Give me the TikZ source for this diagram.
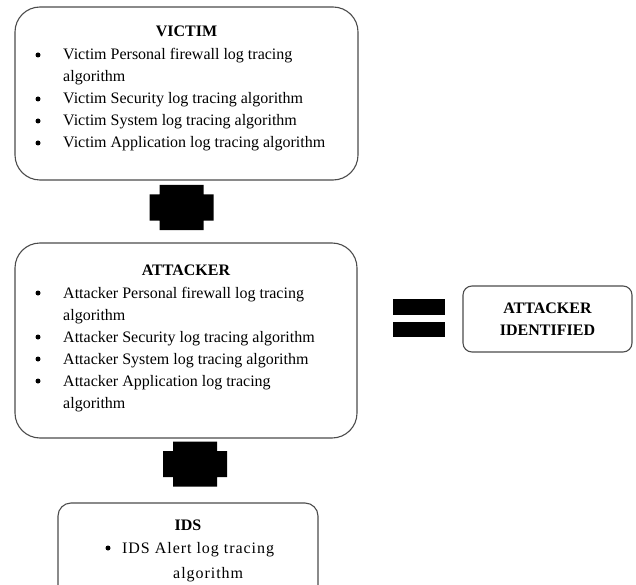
\documentclass[tikz,border=0pt]{standalone}
\usepackage{fontspec}
\setmainfont{Liberation Serif}
\begin{document}
\begin{tikzpicture}[x=1pt,y=-1pt,
  box/.style={draw=black!70, line width=1.1pt, rounded corners=#1, fill=white},
  txt/.style={anchor=base west, inner sep=0pt, font=\fontsize{16}{19}\selectfont},
  widetxt/.style={txt, font=\fontsize{16}{19}\selectfont\addfontfeature{LetterSpace=6}},
  ttl/.style={anchor=base, inner sep=0pt, font=\fontsize{16}{19}\selectfont\bfseries},
  dot/.style={circle, fill=black, inner sep=0pt, minimum size=5pt},
  plusmark/.pic={
    \fill[black] (-22,-22.5) -- (22,-22.5) -- (22,-13) -- (32,-13) -- (32,13)
      -- (22,13) -- (22,22.5) -- (-22,22.5) -- (-22,13) -- (-32,13)
      -- (-32,-13) -- (-22,-13) -- cycle;
  }]
\clip (0,0) rectangle (636,585);
\useasboundingbox (0,0) rectangle (636,585);

% main boxes
\node[box=25pt, minimum width=343pt, minimum height=173pt] (victim) at (186.5,93.5) {};
\node[box=25pt, minimum width=342pt, minimum height=195pt] (attacker) at (186,340.5) {};
\node[box=9pt, minimum width=169pt, minimum height=66pt] (found) at (547.5,319) {};
\node[box=13pt, minimum width=260pt, minimum height=100pt] (ids) at (188,553) {};

% victim contents
\node[ttl] (vt) at (victim.center |- 0,37) {VICTIM};
\node[dot] (vb1) at (38,55) {};
\node[txt] (v1) at (63,60) {Victim Personal firewall log tracing};
\node[txt] (v1b) at (63,82) {algorithm};
\node[dot] (vb2) at (38,99) {};
\node[txt] (v2) at (63,104) {Victim Security log tracing algorithm};
\node[dot] (vb3) at (38,121) {};
\node[txt] (v3) at (63,126) {Victim System log tracing algorithm};
\node[dot] (vb4) at (38,143) {};
\node[txt] (v4) at (63,148) {Victim Application log tracing algorithm};

% attacker contents
\node[ttl] (at) at (attacker.center |- 0,275) {ATTACKER};
\node[dot] (ab1) at (38,293) {};
\node[txt] (a1) at (63,298) {Attacker Personal firewall log tracing};
\node[txt] (a1b) at (63,320) {algorithm};
\node[dot] (ab2) at (38,337) {};
\node[txt] (a2) at (63,342) {Attacker Security log tracing algorithm};
\node[dot] (ab3) at (38,359) {};
\node[txt] (a3) at (63,364) {Attacker System log tracing algorithm};
\node[dot] (ab4) at (38,381) {};
\node[txt] (a4) at (63,386) {Attacker Application log tracing};
\node[txt] (a4b) at (63,408) {algorithm};

% result box
\node[ttl] (f1) at (found.center |- 0,313) {ATTACKER};
\node[ttl] (f2) at (found.center |- 0,335) {IDENTIFIED};

% IDS contents
\node[ttl] (it) at (ids.center |- 0,530) {IDS};
\node[dot] (ib1) at (108,548) {};
\node[widetxt] (i1) at (122,553) {IDS Alert log tracing};
\node[widetxt] (i1b) at (173,578) {algorithm};

% combining symbols
\pic at (181.5,207.5) {plusmark};
\pic at (195,464) {plusmark};
\fill[black] (393,299) rectangle (445,315);
\fill[black] (393,322) rectangle (445,337);
\end{tikzpicture}
\end{document}
